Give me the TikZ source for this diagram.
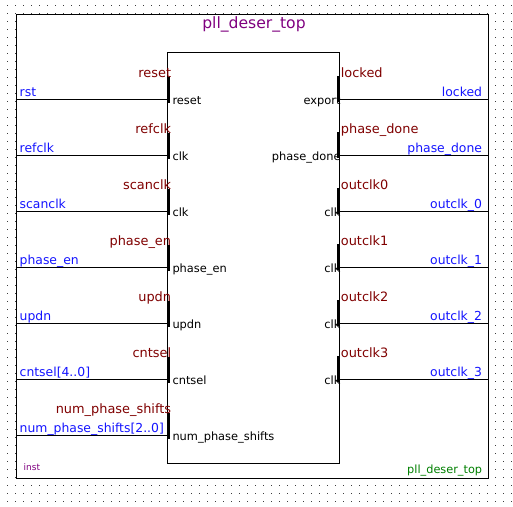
\documentclass[tikz,border=0pt]{standalone}
\usepackage{fontspec}
\setmainfont{DejaVu Sans}
\definecolor{portred}{RGB}{128,0,0}
\definecolor{sigblue}{RGB}{20,20,255}
\definecolor{instpurple}{RGB}{128,0,128}
\definecolor{entgreen}{RGB}{0,128,0}
\definecolor{dotc}{RGB}{60,60,60}
\begin{document}
\begin{tikzpicture}[x=1pt,y=-1pt,
  wire/.style={line width=1pt},
  box/.style={draw, fill=white, line width=1pt, inner sep=0, anchor=north west},
  pinbar/.style={fill=black},
  portname/.style={text=portred, font=\fontsize{12.9}{15}\selectfont, inner sep=0},
  signame/.style={text=sigblue, font=\fontsize{12.4}{14}\selectfont, inner sep=0},
  pinlbl/.style={text=black, font=\fontsize{11.4}{13}\selectfont, inner sep=0}]
\useasboundingbox (0,0) rectangle (513,506);
\foreach \i in {0,...,63}
  \foreach \j in {0,...,62}
    \fill[dotc] (7.2+8*\i,5.2+8*\j) rectangle ++(1,1);
\node[box, minimum width=472.2, minimum height=463.7] (outer) at (15.5,14.3) {};
\node[box, minimum width=171.4, minimum height=411] (inner) at (167.3,52.3) {};
\node[text=instpurple, font=\fontsize{15.6}{18}\selectfont, inner sep=0, anchor=base] (title) at (254,28) {pll\_deser\_top};
\node[text=instpurple, font=\fontsize{9}{11}\selectfont, inner sep=0, anchor=base west] (inst) at (23.5,470) {inst};
\node[text=entgreen, font=\fontsize{11.3}{13}\selectfont, inner sep=0, anchor=base east] (ent) at (482.3,473.5) {pll\_deser\_top};
% left ports
\foreach \k/\y/\pn/\pl/\sn in {1/99.3/reset/reset/rst,
  2/155.3/refclk/clk/refclk,
  3/211.3/scanclk/clk/scanclk,
  4/267.3/phase\_en/phase\_en/phase\_en,
  5/323.3/updn/updn/updn,
  6/379.3/cntsel/cntsel/cntsel[4..0],
  7/435.3/num\_phase\_shifts/num\_phase\_shifts/num\_phase\_shifts[2..0]} {
  \coordinate (oL\k) at (outer.west |- 0,\y);
  \coordinate (iL\k) at (inner.west |- 0,\y);
  \draw[wire] (oL\k) -- (iL\k);
  \fill[pinbar] ([xshift=-0.3pt,yshift=22pt]iL\k) rectangle ([xshift=2.7pt,yshift=-4pt]iL\k);
  \node[portname, anchor=base east] (pnL\k) at ([xshift=4pt,yshift=22pt]iL\k) {\pn};
  \node[signame, anchor=base west] (snL\k) at ([xshift=4pt,yshift=2.5pt]oL\k) {\sn};
  \node[pinlbl, anchor=base west] (plL\k) at ([xshift=5pt,yshift=-5pt]iL\k) {\pl};
}
% right ports
\foreach \k/\y/\pn/\pl/\sn in {1/99.3/locked/export/locked,
  2/155.3/phase\_done/phase\_done/phase\_done,
  3/211.3/outclk0/clk/outclk\_0,
  4/267.3/outclk1/clk/outclk\_1,
  5/323.3/outclk2/clk/outclk\_2,
  6/379.3/outclk3/clk/outclk\_3} {
  \coordinate (iR\k) at (inner.east |- 0,\y);
  \coordinate (oR\k) at (outer.east |- 0,\y);
  \draw[wire] (iR\k) -- (oR\k);
  \fill[pinbar] ([xshift=-2.7pt,yshift=23pt]iR\k) rectangle ([xshift=0.3pt,yshift=-3pt]iR\k);
  \node[portname, anchor=base west] (pnR\k) at ([xshift=1pt,yshift=22pt]iR\k) {\pn};
  \node[signame, anchor=base east] (snR\k) at ([xshift=-6.5pt,yshift=2.5pt]oR\k) {\sn};
  \node[pinlbl, anchor=base east] (plR\k) at ([xshift=1pt,yshift=-5pt]iR\k) {\pl};
}
\end{tikzpicture}
\end{document}
